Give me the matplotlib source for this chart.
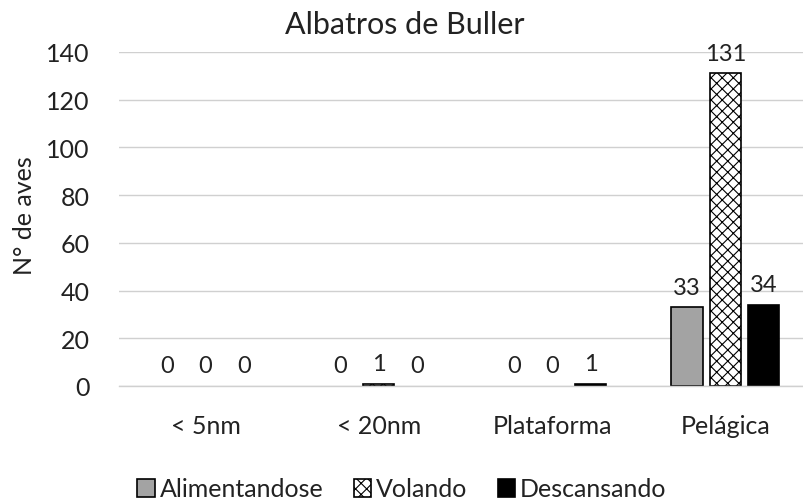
import matplotlib
matplotlib.use("Agg")
import matplotlib.pyplot as plt
import numpy as np

plt.rcParams['font.family'] = ['Lato', 'DejaVu Sans']
plt.rcParams['hatch.linewidth'] = 0.8

categories = ["< 5nm", "< 20nm", "Plataforma", "Pelágica"]
series_names = ["Alimentandose", "Volando", "Descansando"]
alimentandose = [0, 0, 0, 33]
volando = [0, 1, 0, 131]
descansando = [0, 0, 1, 34]
yticks = [0, 20, 40, 60, 80, 100, 120, 140]

W, H = 804, 502
fig = plt.figure(figsize=(W / 100, H / 100), dpi=100)
left, right, bottom, top = 119, 812, 387, 53
ax = fig.add_axes([left / W, 1 - bottom / H, (right - left) / W, (bottom - top) / H])

x = np.arange(len(categories))
bw = 0.18
step = 0.222
styles = [
    dict(color="#a3a3a3", edgecolor="black"),
    dict(color="white", edgecolor="black", hatch="xxx"),
    dict(color="black", edgecolor="black"),
]
data = [alimentandose, volando, descansando]
txtc = "#222222"
for i, (vals, st, name) in enumerate(zip(data, styles, series_names)):
    pos = x + (i - 1) * step
    lws = [1.2 if v > 0 else 0 for v in vals]
    ax.bar(pos, vals, bw, label=name, linewidth=lws, **st)
    for p, v in zip(pos, vals):
        ax.annotate(str(v), (p, v), xytext=(0, 7), textcoords="offset points",
                    ha="center", va="bottom", fontsize=17, color=txtc)

ax.set_xlim(-0.5, len(categories) - 0.5)
ax.set_ylim(0, 140)
ax.set_yticks(yticks)
ax.set_xticks(x)
ax.set_xticklabels(categories)
ax.tick_params(axis="both", length=0, labelsize=18, colors=txtc)
ax.tick_params(axis="x", pad=20)
ax.tick_params(axis="y", pad=21)
ax.grid(axis="y", color="#d0d0d0", linewidth=1)
ax.set_axisbelow(True)
for s in ["top", "right", "left"]:
    ax.spines[s].set_visible(False)
ax.spines["bottom"].set_color("#d0d0d0")
ax.spines["bottom"].set_linewidth(1)

fig.text(25 / W, 1 - 216 / H, "N° de aves", rotation=90, ha="center", va="center",
         fontsize=18, color=txtc)
fig.text(405 / W, 1 - 25 / H, "Albatros de Buller", ha="center", va="center",
         fontsize=22, color=txtc)

leg = fig.legend(loc="center", bbox_to_anchor=(402 / W, 1 - 490 / H), ncol=3, frameon=False,
                 fontsize=18, handlelength=0.7, handleheight=0.7, handletextpad=0.2,
                 columnspacing=1.2, labelcolor=txtc)
for h in leg.legend_handles:
    h.set_linewidth(1.2)

fig.savefig("out.png", dpi=100)
